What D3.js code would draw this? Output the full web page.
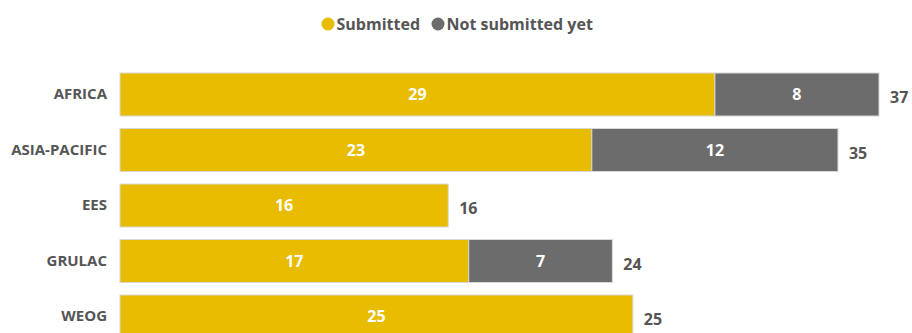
<!DOCTYPE html>
<html>
<head>
<meta charset="utf-8">
<script src="https://cdn.jsdelivr.net/npm/d3@7"></script>
<style>
  body { margin: 0; background: #fff; }
  text { font-family: "Open Sans", "DejaVu Sans", sans-serif; font-weight: bold; }
</style>
</head>
<body>
<div id="chart"></div>
<script>
const svgWidth = 912;
const svgHeight = 333;

const regions = ["AFRICA", "ASIA-PACIFIC", "EES", "GRULAC", "WEOG"];
const submitted = [29, 23, 16, 17, 25];
const notSubmitted = [8, 12, 0, 7, 0];
const seriesNames = ["Submitted", "Not submitted yet"];
const colors = ["#E8BC00", "#6C6C6C"];

const rows = regions.map((r, i) => ({
    region: r,
    submitted: submitted[i],
    notSubmitted: notSubmitted[i],
    total: submitted[i] + notSubmitted[i]
}));

const svg = d3.select("#chart")
    .append("svg")
    .attr("width", svgWidth)
    .attr("height", svgHeight);

const xScale = d3.scaleLinear()
    .domain([0, 37])
    .range([120, 879]);

const yScale = d3.scaleBand()
    .domain(regions)
    .range([73, 338])
    .paddingInner(0.225)
    .paddingOuter(0);

// Category labels
svg.append("g")
    .attr("transform", `translate(${xScale(0)}, 0)`)
    .call(d3.axisLeft(yScale).tickSize(0).tickPadding(13))
    .call(g => g.select(".domain").remove())
    .selectAll("text")
    .style("font-size", "15px")
    .style("font-family", "'Open Sans', 'DejaVu Sans', sans-serif")
    .style("font-weight", "bold")
    .attr("fill", "#555");

// Stacked bars
const stackData = d3.stack().keys(["submitted", "notSubmitted"])(rows);

svg.selectAll(".series")
    .data(stackData)
    .enter()
    .append("g")
    .attr("fill", (d, i) => colors[i])
    .selectAll("rect")
    .data(d => d.filter(p => p[1] - p[0] > 0))
    .enter()
    .append("rect")
    .attr("x", d => xScale(d[0]))
    .attr("y", d => yScale(d.data.region))
    .attr("width", d => xScale(d[1]) - xScale(d[0]))
    .attr("height", yScale.bandwidth())
    .attr("stroke", "#d8d8d8")
    .attr("stroke-width", 1);

// Values inside bars
stackData.forEach(layer => {
    svg.selectAll(null)
        .data(layer.filter(p => p[1] - p[0] > 0))
        .enter()
        .append("text")
        .attr("x", d => (xScale(d[0]) + xScale(d[1])) / 2)
        .attr("y", d => yScale(d.data.region) + yScale.bandwidth() / 2)
        .attr("dy", "0.35em")
        .attr("text-anchor", "middle")
        .attr("fill", "#fff")
        .style("font-size", "16px")
        .text(d => d[1] - d[0]);
});

// Totals
svg.selectAll(".total")
    .data(rows)
    .enter()
    .append("text")
    .attr("x", d => xScale(d.total) + 11)
    .attr("y", d => yScale(d.region) + yScale.bandwidth() / 2 + 3)
    .attr("dy", "0.35em")
    .attr("fill", "#555")
    .style("font-size", "16px")
    .text(d => d.total);

// Legend
const legend = svg.append("g").attr("transform", "translate(328, 24)");
const legendX = [0, 110];
seriesNames.forEach((name, i) => {
    legend.append("circle")
        .attr("cx", legendX[i])
        .attr("cy", 0)
        .attr("r", 6.5)
        .attr("fill", colors[i]);
    legend.append("text")
        .attr("x", legendX[i] + 8.5)
        .attr("y", 0)
        .attr("dy", "0.35em")
        .attr("fill", "#555")
        .style("font-size", "16px")
        .text(name);
});
</script>
</body>
</html>
